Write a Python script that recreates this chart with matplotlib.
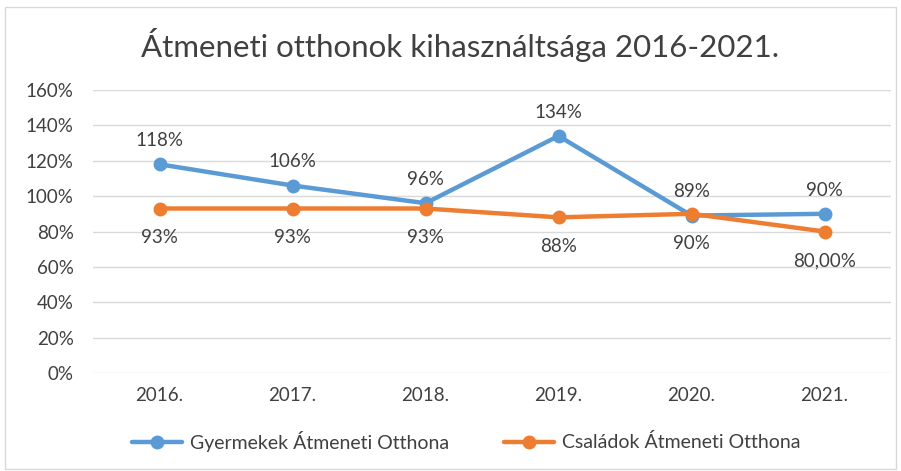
import matplotlib
matplotlib.use("Agg")
import matplotlib.pyplot as plt
from matplotlib.patches import Rectangle
from matplotlib.ticker import FuncFormatter

plt.rcParams['font.family'] = ['Lato', 'DejaVu Sans']

years = ["2016.", "2017.", "2018.", "2019.", "2020.", "2021."]
gyermek = [118, 106, 96, 134, 89, 90]
csalad = [93, 93, 93, 88, 90, 80]
gyermek_labels = ["118%", "106%", "96%", "134%", "89%", "90%"]
csalad_labels = ["93%", "93%", "93%", "88%", "90%", "80,00%"]

blue = "#5B9BD5"
orange = "#ED7D31"
text_c = "#404040"

fig = plt.figure(figsize=(9.01, 4.71), dpi=100)
fig.patches.append(Rectangle((0.005, 0.004), 0.99, 0.982, transform=fig.transFigure,
                             fill=False, edgecolor="#D9D9D9", linewidth=1))
ax = fig.add_axes([93/901, 1 - 373/471, (891 - 93)/901, (373 - 90)/471])

x = list(range(len(years)))
ax.plot(x, gyermek, color=blue, lw=3.2, marker="o", ms=9, solid_capstyle="round",
        label="Gyermekek Átmeneti Otthona", zorder=3)
ax.plot(x, csalad, color=orange, lw=3.2, marker="o", ms=9, solid_capstyle="round",
        label="Családok Átmeneti Otthona", zorder=4)

for xi, v, s in zip(x, gyermek, gyermek_labels):
    ax.annotate(s, (xi, v), xytext=(0, 11), textcoords="offset points",
                ha="center", va="bottom", fontsize=13.5, color=text_c)
for xi, v, s in zip(x, csalad, csalad_labels):
    ax.annotate(s, (xi, v), xytext=(0, -15), textcoords="offset points",
                ha="center", va="top", fontsize=13.5, color=text_c)

ax.set_xlim(-0.5, len(years) - 0.5)
ax.set_ylim(0, 160)
ax.set_yticks(range(0, 161, 20))
ax.yaxis.set_major_formatter(FuncFormatter(lambda v, p: f"{int(v)}%"))
ax.set_xticks(x)
ax.set_xticklabels(years)
ax.tick_params(axis="both", length=0, labelsize=13.5, colors=text_c)
ax.tick_params(axis="y", pad=14)
ax.tick_params(axis="x", pad=10)
ax.grid(axis="y", color="#D9D9D9", lw=1)
ax.set_axisbelow(True)
for sp in ax.spines.values():
    sp.set_visible(False)

fig.text(460/901, 1 - 45/471, "Átmeneti otthonok kihasználtsága 2016-2021.",
         ha="center", va="center", fontsize=22.5, color=text_c)

leg = fig.legend(loc="center", bbox_to_anchor=(466/901, 1 - 441/471), ncol=2,
                 frameon=False, fontsize=14, handlelength=2.6, handletextpad=0.4,
                 columnspacing=2.8)
for t in leg.get_texts():
    t.set_color(text_c)

fig.savefig("out.png", dpi=100)
